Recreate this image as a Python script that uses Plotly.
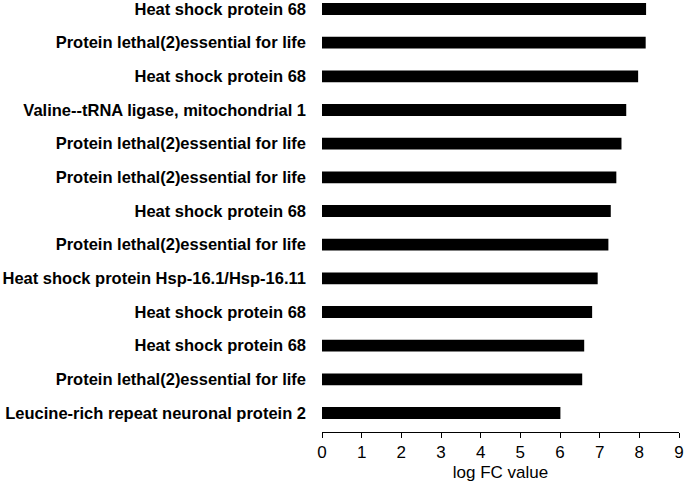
import plotly.graph_objects as go

proteins = [
    "Heat shock protein 68",
    "Protein lethal(2)essential for life",
    "Heat shock protein 68",
    "Valine--tRNA ligase, mitochondrial 1",
    "Protein lethal(2)essential for life",
    "Protein lethal(2)essential for life",
    "Heat shock protein 68",
    "Protein lethal(2)essential for life",
    "Heat shock protein Hsp-16.1/Hsp-16.11",
    "Heat shock protein 68",
    "Heat shock protein 68",
    "Protein lethal(2)essential for life",
    "Leucine-rich repeat neuronal protein 2",
]
log_fc = [8.17, 8.16, 7.97, 7.67, 7.55, 7.42, 7.28, 7.22, 6.95, 6.81, 6.61, 6.56, 6.01]
x_ticks = list(range(0, 10))

n = len(proteins)
ypos = [n - 1 - i for i in range(n)]

fig = go.Figure(go.Bar(
    x=log_fc, y=ypos, orientation="h", width=0.35,
    marker=dict(color="black", line=dict(width=0)),
))
fig.update_layout(
    width=685, height=488,
    margin=dict(l=322, r=6, t=0, b=56),
    plot_bgcolor="white", paper_bgcolor="white",
    showlegend=False,
    font=dict(family="Liberation Sans, Arial, sans-serif", color="black"),
)
fig.update_xaxes(
    range=[0, 9], tickvals=x_ticks, ticks="outside", ticklen=5, tickcolor="black",
    showline=True, linecolor="black", linewidth=1, showgrid=False, zeroline=False,
    tickfont=dict(size=17, color="black"), automargin=False,
    title=dict(text="log FC value", font=dict(size=17, color="black"), standoff=4),
)
fig.update_yaxes(
    range=[-0.564, n - 1 + 0.267], tickvals=ypos, ticktext=proteins,
    showgrid=False, zeroline=False, showline=False, ticks="",
    ticklabelstandoff=15, automargin=False, ticklabeloverflow="allow",
    tickfont=dict(size=16.5, color="black", family="Liberation Sans, Arial, sans-serif", weight="bold"),
)
fig.write_html("out.html", config={"displayModeBar": False},
               post_script="document.body.style.margin='0';")
